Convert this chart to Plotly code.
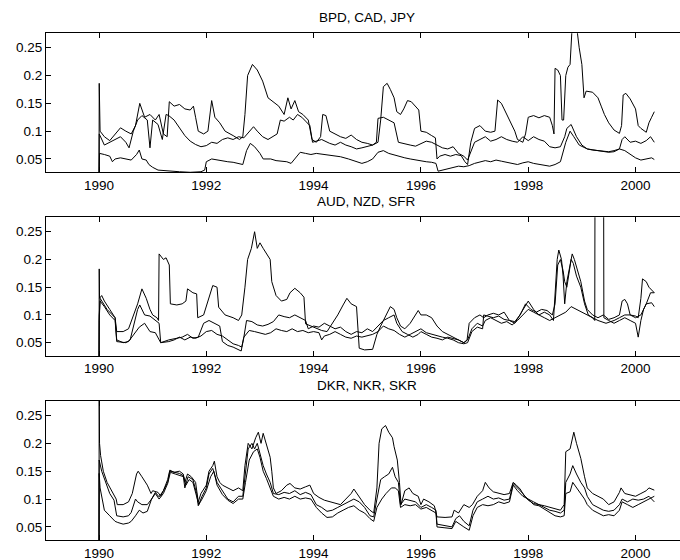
import plotly.graph_objects as go

# ---- data (year, volatility) ----
bpd = [(1990.0,0.0),(1990.004,0.186),(1990.02,0.10),(1990.1,0.09),(1990.2,0.083),(1990.3,0.095),(1990.4,0.106),(1990.5,0.1),(1990.6,0.095),(1990.68,0.11),(1990.76,0.15),(1990.85,0.125),(1990.95,0.13),(1991.05,0.12),(1991.12,0.13),(1991.2,0.095),(1991.27,0.09),(1991.31,0.153),(1991.4,0.145),(1991.5,0.148),(1991.6,0.14),(1991.7,0.138),(1991.76,0.145),(1991.8,0.125),(1991.85,0.1),(1991.95,0.095),(1992.03,0.1),(1992.1,0.155),(1992.16,0.125),(1992.25,0.115),(1992.35,0.1),(1992.5,0.092),(1992.62,0.085),(1992.68,0.09),(1992.72,0.13),(1992.77,0.2),(1992.86,0.22),(1992.95,0.21),(1993.05,0.19),(1993.15,0.16),(1993.25,0.152),(1993.35,0.145),(1993.45,0.13),(1993.52,0.16),(1993.58,0.14),(1993.65,0.155),(1993.72,0.135),(1993.8,0.13),(1993.9,0.12),(1993.97,0.085),(1994.05,0.08),(1994.13,0.09),(1994.17,0.13),(1994.23,0.128),(1994.3,0.1),(1994.4,0.095),(1994.5,0.09),(1994.6,0.087),(1994.7,0.093),(1994.8,0.085),(1994.9,0.08),(1995.0,0.078),(1995.1,0.075),(1995.17,0.08),(1995.2,0.123),(1995.3,0.125),(1995.4,0.12),(1995.5,0.115),(1995.58,0.08),(1995.7,0.078),(1995.8,0.075),(1995.9,0.073),(1996.0,0.078),(1996.1,0.082),(1996.2,0.08),(1996.3,0.075),(1996.4,0.07),(1996.5,0.068),(1996.6,0.072),(1996.7,0.06),(1996.8,0.055),(1996.87,0.048),(1996.92,0.06),(1997.0,0.08),(1997.1,0.085),(1997.2,0.09),(1997.3,0.082),(1997.4,0.085),(1997.5,0.09),(1997.6,0.085),(1997.7,0.082),(1997.8,0.08),(1997.9,0.09),(1998.0,0.083),(1998.1,0.09),(1998.2,0.085),(1998.3,0.082),(1998.4,0.072),(1998.5,0.07),(1998.6,0.072),(1998.68,0.09),(1998.72,0.105),(1998.8,0.112),(1998.9,0.09),(1999.0,0.075),(1999.1,0.068),(1999.2,0.066),(1999.3,0.065),(1999.4,0.064),(1999.5,0.063),(1999.6,0.065),(1999.7,0.068),(1999.75,0.085),(1999.8,0.09),(1999.9,0.08),(2000.0,0.082),(2000.1,0.078),(2000.2,0.083),(2000.28,0.09),(2000.35,0.08)]

jpy = [(1990.0,0.0),(1990.004,0.095),(1990.1,0.075),(1990.2,0.08),(1990.3,0.085),(1990.4,0.09),(1990.5,0.08),(1990.56,0.07),(1990.64,0.1),(1990.72,0.12),(1990.8,0.128),(1990.9,0.12),(1990.95,0.07),(1991.0,0.12),(1991.1,0.112),(1991.18,0.085),(1991.25,0.13),(1991.3,0.128),(1991.4,0.12),(1991.5,0.105),(1991.6,0.092),(1991.7,0.082),(1991.8,0.076),(1991.9,0.072),(1992.0,0.074),(1992.1,0.08),(1992.2,0.078),(1992.3,0.085),(1992.4,0.088),(1992.5,0.085),(1992.6,0.09),(1992.7,0.088),(1992.8,0.1),(1992.88,0.108),(1992.95,0.1),(1993.05,0.09),(1993.15,0.085),(1993.25,0.09),(1993.32,0.095),(1993.38,0.12),(1993.45,0.118),(1993.55,0.125),(1993.62,0.12),(1993.7,0.13),(1993.78,0.125),(1993.85,0.118),(1993.93,0.11),(1993.98,0.08),(1994.05,0.082),(1994.15,0.085),(1994.3,0.078),(1994.4,0.075),(1994.5,0.08),(1994.6,0.075),(1994.7,0.072),(1994.8,0.068),(1994.9,0.07),(1995.0,0.072),(1995.1,0.075),(1995.2,0.08),(1995.25,0.12),(1995.3,0.18),(1995.37,0.186),(1995.43,0.175),(1995.5,0.16),(1995.55,0.135),(1995.62,0.13),(1995.68,0.14),(1995.75,0.155),(1995.82,0.153),(1995.9,0.145),(1995.96,0.138),(1996.0,0.1),(1996.1,0.098),(1996.2,0.092),(1996.27,0.088),(1996.3,0.05),(1996.35,0.055),(1996.45,0.058),(1996.55,0.055),(1996.65,0.058),(1996.75,0.056),(1996.82,0.045),(1996.87,0.04),(1996.93,0.08),(1997.0,0.105),(1997.1,0.11),(1997.2,0.1),(1997.3,0.098),(1997.38,0.1),(1997.43,0.156),(1997.5,0.15),(1997.55,0.14),(1997.6,0.13),(1997.65,0.12),(1997.7,0.108),(1997.75,0.1),(1997.8,0.085),(1997.9,0.08),(1997.95,0.095),(1998.0,0.125),(1998.1,0.128),(1998.2,0.124),(1998.3,0.128),(1998.4,0.125),(1998.45,0.11),(1998.48,0.095),(1998.5,0.213),(1998.55,0.21),(1998.6,0.2),(1998.63,0.12),(1998.66,0.12),(1998.7,0.2),(1998.74,0.215),(1998.78,0.22),(1998.82,0.29),(1998.9,0.29),(1998.95,0.25),(1999.0,0.22),(1999.04,0.16),(1999.08,0.172),(1999.2,0.17),(1999.3,0.16),(1999.36,0.145),(1999.42,0.13),(1999.5,0.115),(1999.6,0.102),(1999.7,0.096),(1999.74,0.11),(1999.77,0.165),(1999.82,0.168),(1999.9,0.158),(2000.0,0.14),(2000.05,0.11),(2000.1,0.105),(2000.2,0.098),(2000.25,0.115),(2000.3,0.125),(2000.35,0.135)]

cad = [(1990.0,0.0),(1990.01,0.06),(1990.1,0.058),(1990.2,0.055),(1990.25,0.045),(1990.3,0.05),(1990.4,0.052),(1990.5,0.05),(1990.6,0.048),(1990.7,0.058),(1990.75,0.066),(1990.8,0.05),(1990.88,0.048),(1990.93,0.04),(1991.0,0.035),(1991.1,0.03),(1991.3,0.028),(1991.5,0.027),(1991.7,0.026),(1991.9,0.027),(1991.97,0.03),(1992.0,0.045),(1992.1,0.05),(1992.2,0.048),(1992.3,0.047),(1992.4,0.045),(1992.5,0.044),(1992.6,0.042),(1992.68,0.04),(1992.75,0.065),(1992.82,0.078),(1992.9,0.072),(1993.0,0.06),(1993.06,0.05),(1993.2,0.05),(1993.3,0.047),(1993.4,0.046),(1993.5,0.045),(1993.58,0.042),(1993.65,0.05),(1993.75,0.062),(1993.85,0.06),(1993.95,0.058),(1994.05,0.06),(1994.2,0.058),(1994.35,0.056),(1994.5,0.054),(1994.65,0.05),(1994.8,0.045),(1994.9,0.042),(1995.0,0.045),(1995.1,0.05),(1995.2,0.062),(1995.3,0.065),(1995.4,0.06),(1995.5,0.057),(1995.6,0.055),(1995.7,0.052),(1995.8,0.05),(1995.9,0.048),(1996.0,0.047),(1996.1,0.045),(1996.2,0.044),(1996.28,0.042),(1996.32,0.028),(1996.4,0.03),(1996.5,0.032),(1996.6,0.035),(1996.7,0.037),(1996.8,0.036),(1996.9,0.038),(1997.0,0.042),(1997.1,0.045),(1997.2,0.047),(1997.3,0.045),(1997.4,0.048),(1997.5,0.046),(1997.6,0.044),(1997.7,0.042),(1997.8,0.04),(1997.9,0.043),(1998.0,0.045),(1998.1,0.042),(1998.2,0.04),(1998.3,0.038),(1998.4,0.037),(1998.5,0.04),(1998.6,0.045),(1998.7,0.08),(1998.78,0.1),(1998.85,0.09),(1998.95,0.075),(1999.1,0.068),(1999.3,0.065),(1999.5,0.062),(1999.6,0.063),(1999.7,0.068),(1999.8,0.065),(1999.9,0.058),(2000.0,0.052),(2000.1,0.048),(2000.2,0.05),(2000.3,0.052),(2000.35,0.049)]

sfr = [(1990.0,0.0),(1990.004,0.183),(1990.01,0.13),(1990.05,0.135),(1990.1,0.125),(1990.2,0.11),(1990.3,0.095),(1990.33,0.07),(1990.45,0.07),(1990.55,0.075),(1990.65,0.1),(1990.72,0.12),(1990.8,0.147),(1990.88,0.13),(1990.95,0.11),(1991.0,0.1),(1991.08,0.095),(1991.11,0.09),(1991.12,0.21),(1991.2,0.2),(1991.25,0.203),(1991.31,0.19),(1991.33,0.12),(1991.45,0.118),(1991.55,0.12),(1991.62,0.125),(1991.65,0.147),(1991.75,0.14),(1991.82,0.138),(1991.84,0.095),(1991.95,0.1),(1992.05,0.13),(1992.12,0.153),(1992.2,0.15),(1992.23,0.114),(1992.35,0.1),(1992.5,0.095),(1992.6,0.09),(1992.66,0.1),(1992.72,0.15),(1992.77,0.2),(1992.84,0.22),(1992.9,0.25),(1992.95,0.22),(1993.0,0.23),(1993.06,0.22),(1993.15,0.205),(1993.19,0.2),(1993.22,0.16),(1993.3,0.135),(1993.4,0.125),(1993.5,0.128),(1993.56,0.14),(1993.65,0.148),(1993.75,0.14),(1993.82,0.132),(1993.85,0.084),(1993.95,0.08),(1994.05,0.075),(1994.15,0.072),(1994.25,0.07),(1994.35,0.085),(1994.45,0.1),(1994.55,0.118),(1994.62,0.13),(1994.7,0.12),(1994.8,0.115),(1994.85,0.04),(1994.95,0.037),(1995.1,0.038),(1995.18,0.065),(1995.25,0.08),(1995.35,0.1),(1995.43,0.115),(1995.5,0.11),(1995.55,0.095),(1995.62,0.08),(1995.7,0.075),(1995.8,0.085),(1995.9,0.1),(1995.95,0.108),(1996.0,0.1),(1996.1,0.1),(1996.2,0.095),(1996.3,0.08),(1996.4,0.07),(1996.5,0.065),(1996.6,0.06),(1996.7,0.055),(1996.8,0.05),(1996.86,0.055),(1996.9,0.085),(1997.0,0.095),(1997.1,0.1),(1997.17,0.095),(1997.25,0.1),(1997.35,0.103),(1997.45,0.1),(1997.55,0.105),(1997.65,0.09),(1997.75,0.085),(1997.85,0.1),(1997.95,0.115),(1998.0,0.125),(1998.1,0.11),(1998.2,0.1),(1998.3,0.095),(1998.4,0.09),(1998.5,0.095),(1998.6,0.1),(1998.7,0.105),(1998.8,0.115),(1998.9,0.11),(1999.0,0.105),(1999.1,0.1),(1999.3,0.09),(1999.45,0.085),(1999.6,0.09),(1999.7,0.095),(1999.8,0.1),(1999.9,0.1),(2000.0,0.095),(2000.1,0.1),(2000.2,0.12),(2000.28,0.14),(2000.35,0.14)]

aud = [(1990.0,0.0),(1990.004,0.1),(1990.02,0.125),(1990.1,0.115),(1990.2,0.1),(1990.3,0.09),(1990.33,0.052),(1990.5,0.05),(1990.58,0.055),(1990.65,0.08),(1990.72,0.11),(1990.76,0.118),(1990.85,0.1),(1990.95,0.098),(1991.05,0.09),(1991.12,0.085),(1991.15,0.05),(1991.3,0.055),(1991.45,0.058),(1991.55,0.06),(1991.65,0.065),(1991.75,0.058),(1991.85,0.06),(1991.95,0.085),(1992.05,0.09),(1992.15,0.085),(1992.25,0.08),(1992.3,0.052),(1992.4,0.045),(1992.5,0.042),(1992.6,0.038),(1992.65,0.035),(1992.7,0.06),(1992.75,0.09),(1992.85,0.088),(1992.95,0.082),(1993.05,0.08),(1993.15,0.083),(1993.25,0.088),(1993.35,0.1),(1993.45,0.097),(1993.55,0.095),(1993.65,0.1),(1993.75,0.095),(1993.85,0.09),(1993.9,0.075),(1994.0,0.08),(1994.1,0.078),(1994.2,0.085),(1994.3,0.08),(1994.4,0.075),(1994.5,0.078),(1994.6,0.07),(1994.7,0.065),(1994.8,0.07),(1994.9,0.068),(1995.0,0.075),(1995.1,0.07),(1995.2,0.08),(1995.3,0.09),(1995.4,0.095),(1995.5,0.1),(1995.55,0.085),(1995.65,0.07),(1995.75,0.065),(1995.85,0.06),(1995.95,0.065),(1996.0,0.07),(1996.1,0.065),(1996.2,0.06),(1996.3,0.058),(1996.4,0.055),(1996.5,0.06),(1996.6,0.058),(1996.7,0.055),(1996.8,0.05),(1996.87,0.055),(1996.95,0.075),(1997.05,0.085),(1997.15,0.08),(1997.2,0.09),(1997.3,0.095),(1997.4,0.09),(1997.5,0.085),(1997.6,0.088),(1997.7,0.082),(1997.8,0.09),(1997.9,0.1),(1998.0,0.11),(1998.1,0.105),(1998.2,0.1),(1998.3,0.105),(1998.4,0.1),(1998.47,0.09),(1998.5,0.13),(1998.54,0.2),(1998.57,0.217),(1998.62,0.2),(1998.65,0.17),(1998.68,0.12),(1998.72,0.16),(1998.78,0.19),(1998.82,0.21),(1998.86,0.2),(1998.92,0.18),(1998.98,0.16),(1999.05,0.125),(1999.1,0.11),(1999.2,0.1),(1999.3,0.095),(1999.4,0.1),(1999.5,0.092),(1999.6,0.095),(1999.7,0.1),(1999.75,0.125),(1999.8,0.128),(1999.85,0.12),(1999.9,0.1),(2000.0,0.098),(2000.05,0.095),(2000.1,0.13),(2000.13,0.165),(2000.2,0.16),(2000.25,0.15),(2000.3,0.145),(2000.35,0.14)]

nzd = [(1990.0,0.0),(1990.004,0.09),(1990.02,0.13),(1990.08,0.12),(1990.15,0.11),(1990.25,0.1),(1990.3,0.095),(1990.33,0.055),(1990.45,0.05),(1990.55,0.052),(1990.65,0.065),(1990.75,0.078),(1990.85,0.085),(1990.95,0.07),(1991.05,0.068),(1991.1,0.06),(1991.15,0.05),(1991.3,0.052),(1991.4,0.055),(1991.5,0.06),(1991.6,0.055),(1991.7,0.06),(1991.8,0.058),(1991.9,0.062),(1992.0,0.07),(1992.1,0.072),(1992.2,0.065),(1992.3,0.062),(1992.4,0.055),(1992.5,0.048),(1992.6,0.045),(1992.66,0.042),(1992.7,0.06),(1992.8,0.072),(1992.9,0.07),(1993.0,0.068),(1993.1,0.065),(1993.2,0.068),(1993.3,0.075),(1993.4,0.072),(1993.5,0.07),(1993.6,0.075),(1993.7,0.07),(1993.8,0.072),(1993.9,0.068),(1994.0,0.07),(1994.1,0.068),(1994.15,0.055),(1994.2,0.062),(1994.3,0.065),(1994.4,0.07),(1994.5,0.065),(1994.6,0.06),(1994.7,0.058),(1994.8,0.062),(1994.9,0.06),(1995.0,0.062),(1995.1,0.065),(1995.2,0.07),(1995.3,0.08),(1995.4,0.075),(1995.5,0.072),(1995.6,0.065),(1995.7,0.06),(1995.8,0.065),(1995.9,0.07),(1996.0,0.075),(1996.1,0.068),(1996.2,0.065),(1996.3,0.062),(1996.4,0.06),(1996.5,0.058),(1996.6,0.055),(1996.7,0.05),(1996.8,0.048),(1996.87,0.05),(1996.95,0.07),(1997.05,0.078),(1997.15,0.075),(1997.17,0.1),(1997.25,0.098),(1997.35,0.095),(1997.45,0.098),(1997.55,0.092),(1997.65,0.09),(1997.75,0.088),(1997.85,0.1),(1997.95,0.12),(1998.05,0.11),(1998.15,0.105),(1998.25,0.11),(1998.35,0.108),(1998.45,0.1),(1998.5,0.12),(1998.55,0.19),(1998.6,0.2),(1998.65,0.18),(1998.68,0.16),(1998.72,0.15),(1998.8,0.2),(1998.84,0.193),(1998.9,0.17),(1998.98,0.15),(1999.05,0.12),(1999.12,0.1),(1999.2,0.095),(1999.24,0.09),(1999.245,0.35),(1999.405,0.35),(1999.41,0.095),(1999.5,0.09),(1999.6,0.085),(1999.7,0.09),(1999.8,0.095),(1999.9,0.09),(2000.0,0.085),(2000.05,0.06),(2000.1,0.09),(2000.15,0.11),(2000.2,0.12),(2000.3,0.122),(2000.35,0.115)]

dkr = [(1990.0,0.0),(1990.003,0.3),(1990.01,0.2),(1990.03,0.178),(1990.08,0.15),(1990.15,0.13),(1990.25,0.112),(1990.32,0.1),(1990.34,0.09),(1990.45,0.09),(1990.55,0.095),(1990.62,0.11),(1990.7,0.145),(1990.73,0.15),(1990.8,0.14),(1990.9,0.125),(1990.97,0.11),(1991.0,0.115),(1991.1,0.112),(1991.15,0.105),(1991.2,0.115),(1991.28,0.135),(1991.32,0.152),(1991.4,0.148),(1991.5,0.15),(1991.57,0.145),(1991.6,0.13),(1991.65,0.145),(1991.72,0.14),(1991.8,0.13),(1991.85,0.095),(1991.9,0.11),(1992.0,0.125),(1992.05,0.15),(1992.12,0.16),(1992.15,0.168),(1992.2,0.14),(1992.25,0.13),(1992.3,0.125),(1992.4,0.12),(1992.5,0.115),(1992.6,0.12),(1992.68,0.115),(1992.72,0.16),(1992.78,0.2),(1992.85,0.19),(1992.92,0.21),(1992.97,0.22),(1993.02,0.2),(1993.06,0.218),(1993.12,0.2),(1993.19,0.175),(1993.22,0.15),(1993.25,0.12),(1993.3,0.11),(1993.4,0.115),(1993.5,0.125),(1993.56,0.128),(1993.65,0.12),(1993.75,0.118),(1993.85,0.122),(1993.93,0.125),(1994.0,0.11),(1994.1,0.103),(1994.2,0.098),(1994.3,0.095),(1994.4,0.092),(1994.5,0.09),(1994.6,0.1),(1994.7,0.11),(1994.75,0.118),(1994.85,0.105),(1994.95,0.09),(1995.05,0.08),(1995.12,0.075),(1995.18,0.12),(1995.22,0.2),(1995.27,0.226),(1995.34,0.232),(1995.4,0.22),(1995.47,0.21),(1995.5,0.194),(1995.56,0.17),(1995.6,0.13),(1995.63,0.09),(1995.7,0.115),(1995.78,0.12),(1995.85,0.11),(1995.95,0.105),(1996.0,0.09),(1996.05,0.1),(1996.15,0.095),(1996.25,0.088),(1996.3,0.068),(1996.45,0.067),(1996.58,0.068),(1996.62,0.08),(1996.7,0.075),(1996.8,0.09),(1996.9,0.085),(1996.96,0.09),(1997.05,0.105),(1997.15,0.115),(1997.2,0.13),(1997.27,0.12),(1997.35,0.113),(1997.45,0.11),(1997.55,0.108),(1997.65,0.11),(1997.72,0.13),(1997.78,0.125),(1997.85,0.118),(1997.93,0.105),(1998.0,0.1),(1998.1,0.095),(1998.2,0.09),(1998.3,0.088),(1998.4,0.085),(1998.5,0.082),(1998.6,0.08),(1998.67,0.09),(1998.7,0.185),(1998.78,0.19),(1998.85,0.22),(1998.9,0.2),(1998.98,0.173),(1999.05,0.14),(1999.1,0.12),(1999.2,0.11),(1999.3,0.105),(1999.4,0.1),(1999.5,0.09),(1999.6,0.095),(1999.7,0.112),(1999.73,0.12),(1999.8,0.11),(1999.9,0.108),(2000.0,0.105),(2000.1,0.11),(2000.2,0.115),(2000.25,0.12),(2000.35,0.116)]

nkr = [(1990.0,0.0),(1990.003,0.17),(1990.05,0.15),(1990.12,0.13),(1990.2,0.11),(1990.28,0.098),(1990.33,0.07),(1990.45,0.068),(1990.55,0.07),(1990.6,0.076),(1990.68,0.1),(1990.72,0.095),(1990.8,0.09),(1990.9,0.09),(1990.98,0.1),(1991.05,0.112),(1991.12,0.104),(1991.2,0.115),(1991.28,0.13),(1991.32,0.15),(1991.4,0.148),(1991.5,0.146),(1991.57,0.142),(1991.6,0.12),(1991.66,0.14),(1991.75,0.135),(1991.82,0.11),(1991.85,0.088),(1991.92,0.105),(1992.0,0.12),(1992.05,0.145),(1992.12,0.155),(1992.2,0.13),(1992.3,0.115),(1992.4,0.1),(1992.5,0.095),(1992.6,0.105),(1992.68,0.105),(1992.72,0.14),(1992.78,0.19),(1992.85,0.2),(1992.9,0.19),(1992.95,0.2),(1993.0,0.18),(1993.06,0.16),(1993.12,0.145),(1993.19,0.13),(1993.25,0.11),(1993.35,0.108),(1993.45,0.112),(1993.55,0.11),(1993.65,0.115),(1993.75,0.108),(1993.85,0.112),(1993.95,0.108),(1994.05,0.09),(1994.15,0.085),(1994.25,0.078),(1994.35,0.08),(1994.45,0.085),(1994.55,0.09),(1994.65,0.095),(1994.75,0.1),(1994.85,0.095),(1994.95,0.085),(1995.05,0.07),(1995.12,0.068),(1995.18,0.1),(1995.25,0.135),(1995.32,0.14),(1995.4,0.145),(1995.47,0.157),(1995.52,0.14),(1995.58,0.13),(1995.62,0.09),(1995.7,0.1),(1995.8,0.098),(1995.9,0.095),(1996.0,0.085),(1996.1,0.09),(1996.2,0.085),(1996.28,0.08),(1996.3,0.055),(1996.45,0.052),(1996.58,0.05),(1996.65,0.065),(1996.72,0.07),(1996.8,0.06),(1996.9,0.052),(1996.97,0.08),(1997.05,0.095),(1997.15,0.1),(1997.25,0.105),(1997.35,0.1),(1997.45,0.102),(1997.55,0.098),(1997.65,0.1),(1997.72,0.128),(1997.8,0.12),(1997.9,0.11),(1998.0,0.098),(1998.1,0.092),(1998.2,0.09),(1998.3,0.085),(1998.4,0.08),(1998.5,0.078),(1998.6,0.075),(1998.67,0.08),(1998.7,0.13),(1998.78,0.145),(1998.83,0.16),(1998.9,0.145),(1998.98,0.13),(1999.05,0.12),(1999.1,0.105),(1999.2,0.09),(1999.3,0.085),(1999.4,0.08),(1999.5,0.078),(1999.6,0.08),(1999.7,0.09),(1999.75,0.1),(1999.85,0.095),(1999.95,0.1),(2000.05,0.098),(2000.15,0.1),(2000.25,0.105),(2000.35,0.095)]

skr = [(1990.0,0.0),(1990.003,0.146),(1990.02,0.12),(1990.06,0.098),(1990.1,0.08),(1990.2,0.07),(1990.3,0.06),(1990.35,0.058),(1990.45,0.055),(1990.55,0.057),(1990.6,0.06),(1990.68,0.07),(1990.75,0.08),(1990.82,0.075),(1990.9,0.078),(1990.98,0.1),(1991.05,0.11),(1991.12,0.1),(1991.2,0.11),(1991.28,0.128),(1991.33,0.148),(1991.42,0.145),(1991.5,0.142),(1991.58,0.14),(1991.62,0.125),(1991.68,0.135),(1991.75,0.13),(1991.82,0.105),(1991.86,0.09),(1991.92,0.1),(1992.0,0.115),(1992.08,0.14),(1992.14,0.15),(1992.2,0.125),(1992.3,0.108),(1992.4,0.098),(1992.5,0.092),(1992.6,0.1),(1992.68,0.1),(1992.73,0.13),(1992.8,0.17),(1992.88,0.185),(1992.95,0.19),(1993.0,0.175),(1993.06,0.15),(1993.12,0.137),(1993.19,0.12),(1993.25,0.105),(1993.35,0.1),(1993.45,0.103),(1993.55,0.1),(1993.65,0.105),(1993.75,0.1),(1993.85,0.102),(1993.95,0.1),(1994.05,0.085),(1994.15,0.075),(1994.25,0.067),(1994.35,0.068),(1994.45,0.075),(1994.55,0.08),(1994.65,0.085),(1994.75,0.088),(1994.85,0.08),(1994.95,0.075),(1995.05,0.065),(1995.12,0.06),(1995.18,0.085),(1995.27,0.1),(1995.35,0.11),(1995.45,0.12),(1995.52,0.12),(1995.58,0.115),(1995.62,0.085),(1995.7,0.09),(1995.8,0.088),(1995.9,0.09),(1996.0,0.082),(1996.1,0.085),(1996.2,0.08),(1996.28,0.075),(1996.3,0.05),(1996.45,0.048),(1996.58,0.047),(1996.65,0.06),(1996.72,0.055),(1996.8,0.05),(1996.9,0.044),(1996.97,0.07),(1997.05,0.085),(1997.15,0.09),(1997.25,0.088),(1997.35,0.09),(1997.45,0.095),(1997.55,0.092),(1997.65,0.095),(1997.72,0.125),(1997.8,0.115),(1997.9,0.105),(1998.0,0.1),(1998.1,0.09),(1998.2,0.088),(1998.3,0.082),(1998.4,0.075),(1998.5,0.07),(1998.6,0.068),(1998.67,0.07),(1998.7,0.11),(1998.78,0.113),(1998.83,0.13),(1998.9,0.12),(1998.98,0.11),(1999.05,0.1),(1999.1,0.09),(1999.2,0.08),(1999.3,0.075),(1999.4,0.07),(1999.5,0.072),(1999.6,0.07),(1999.7,0.08),(1999.75,0.095),(1999.85,0.09),(1999.95,0.085),(2000.05,0.09),(2000.15,0.095),(2000.25,0.1),(2000.35,0.105)]

titles = ["BPD, CAD, JPY", "AUD, NZD, SFR", "DKR, NKR, SKR"]
panels = [[bpd, cad, jpy], [aud, nzd, sfr], [dkr, nkr, skr]]
year_ticks = [1990, 1992, 1994, 1996, 1998, 2000]
vol_ticks = [0.05, 0.1, 0.15, 0.2, 0.25]
vol_labels = ["0.05", "0.1", "0.15", "0.2", "0.25"]

W, H = 680, 560
x_left_px = 46
# plot areas (top, bottom) in pixels
rows_px = [(33.3, 172.3), (217.3, 356.0), (401.0, 540.3)]
x_range = [1989.012, 2000.829]
y_range = [0.026, 0.276]
font = dict(family="Liberation Sans, Arial, Helvetica, sans-serif", size=13.5, color="black")

fig = go.Figure()
for i, series in enumerate(panels):
    ax = "" if i == 0 else str(i + 1)
    for s in series:
        t, v = zip(*s)
        fig.add_trace(go.Scatter(x=list(t), y=list(v), mode="lines",
                                 line=dict(color="black", width=1),
                                 xaxis="x" + ax, yaxis="y" + ax,
                                 showlegend=False, hoverinfo="skip"))
    top, bot = rows_px[i]
    dom_y = [1 - bot / H, 1 - top / H]
    fig.layout["xaxis" + ax] = dict(
        domain=[x_left_px / W, 1.0], range=x_range, anchor="y" + ax,
        tickvals=year_ticks, ticktext=[str(y) for y in year_ticks],
        ticks="inside", ticklen=5, tickcolor="black", tickwidth=1,
        showline=True, linecolor="black", linewidth=1, mirror="ticks",
        showgrid=False, zeroline=False, tickfont=font)
    fig.layout["yaxis" + ax] = dict(
        domain=dom_y, range=y_range, anchor="x" + ax,
        tickvals=vol_ticks, ticktext=vol_labels,
        ticks="inside", ticklen=5, tickcolor="black", tickwidth=1,
        showline=True, linecolor="black", linewidth=1, mirror=False,
        showgrid=False, zeroline=False, tickfont=font)
    fig.add_annotation(text=titles[i], xref="paper", yref="paper",
                       x=366.5 / W, y=1 - (top - 15.5) / H,
                       xanchor="center", yanchor="middle",
                       showarrow=False, font=font)

fig.update_layout(width=W, height=H, margin=dict(l=0, r=0, t=0, b=0),
                  paper_bgcolor="white", plot_bgcolor="white", font=font)
fig.write_html("out.html")
